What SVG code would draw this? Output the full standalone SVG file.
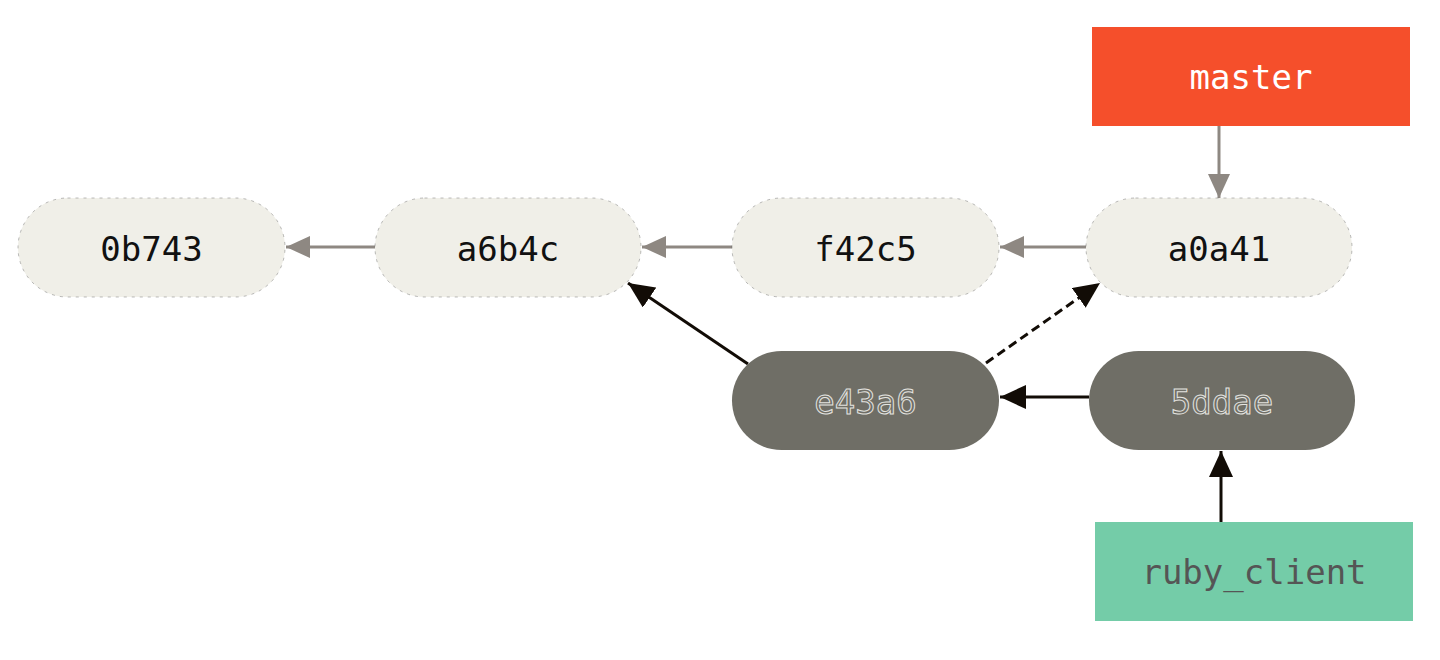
<svg xmlns="http://www.w3.org/2000/svg" width="1440" height="660" viewBox="0 0 1440 660">
<style>
.commit{fill:#F0EFE8;stroke:#555;stroke-width:0.4;stroke-dasharray:3 5}
.gcommit{fill:#6F6E66}
.t{font-family:"DejaVu Sans Mono","Liberation Mono",monospace;font-size:34px;text-anchor:middle;dominant-baseline:central}
.tc{fill:#111}
.tg{fill:#6F6E66;stroke:#E4E4E0;stroke-width:1}
.gray{stroke:#8E8882;stroke-width:3;fill:none}
.blk{stroke:#120C06;stroke-width:3;fill:none}
</style>
<defs>
<marker id="ag" viewBox="0 0 24 22" refX="24" refY="11" markerWidth="24" markerHeight="22" markerUnits="userSpaceOnUse" orient="auto"><path d="M0,0L24,11L0,22z" fill="#8E8882"/></marker>
<marker id="ab" viewBox="0 0 26 24" refX="26" refY="12" markerWidth="26" markerHeight="24" markerUnits="userSpaceOnUse" orient="auto"><path d="M0,0L26,12L0,24z" fill="#120C06"/></marker>
</defs>
<rect width="1440" height="660" fill="#fff"/>
<g id="connectors">
<line class="gray" x1="375" y1="247" x2="286" y2="247" marker-end="url(#ag)"/>
<line class="gray" x1="732" y1="247" x2="642" y2="247" marker-end="url(#ag)"/>
<line class="gray" x1="1086" y1="247" x2="1000" y2="247" marker-end="url(#ag)"/>
<line class="gray" x1="1219" y1="126" x2="1219" y2="198" marker-end="url(#ag)"/>
<line class="blk" x1="748" y1="364" x2="628" y2="283" marker-end="url(#ab)"/>
<line class="blk" x1="986" y1="363" x2="1100" y2="283" stroke-dasharray="9 5" marker-end="url(#ab)"/>
<line class="blk" x1="1089" y1="397" x2="1000" y2="397" marker-end="url(#ab)"/>
<line class="blk" x1="1221" y1="522" x2="1221" y2="451" marker-end="url(#ab)"/>
</g>
<g id="n0b743"><rect class="commit" x="18" y="198" width="267" height="99" rx="49.5"/><text class="t tc" x="151.5" y="249">0b743</text></g>
<g id="na6b4c"><rect class="commit" x="375" y="198" width="266" height="99" rx="49.5"/><text class="t tc" x="508" y="249">a6b4c</text></g>
<g id="nf42c5"><rect class="commit" x="732" y="198" width="267" height="99" rx="49.5"/><text class="t tc" x="865.5" y="249">f42c5</text></g>
<g id="na0a41"><rect class="commit" x="1086" y="198" width="266" height="99" rx="49.5"/><text class="t tc" x="1219" y="249">a0a41</text></g>
<g id="master"><rect x="1092" y="27" width="318" height="99" fill="#F54F2B"/><text class="t" fill="#fff" x="1251" y="77">master</text></g>
<g id="ne43a6"><rect class="gcommit" x="732" y="351" width="267" height="99" rx="49.5"/><text class="t tg" x="865.5" y="402">e43a6</text></g>
<g id="n5ddae"><rect class="gcommit" x="1089" y="351" width="266" height="99" rx="49.5"/><text class="t tg" x="1222" y="402">5ddae</text></g>
<g id="ruby_client"><rect x="1095" y="522" width="318" height="99" fill="#74CCA8"/><text class="t" fill="#555" x="1254" y="572">ruby_client</text></g>
</svg>
